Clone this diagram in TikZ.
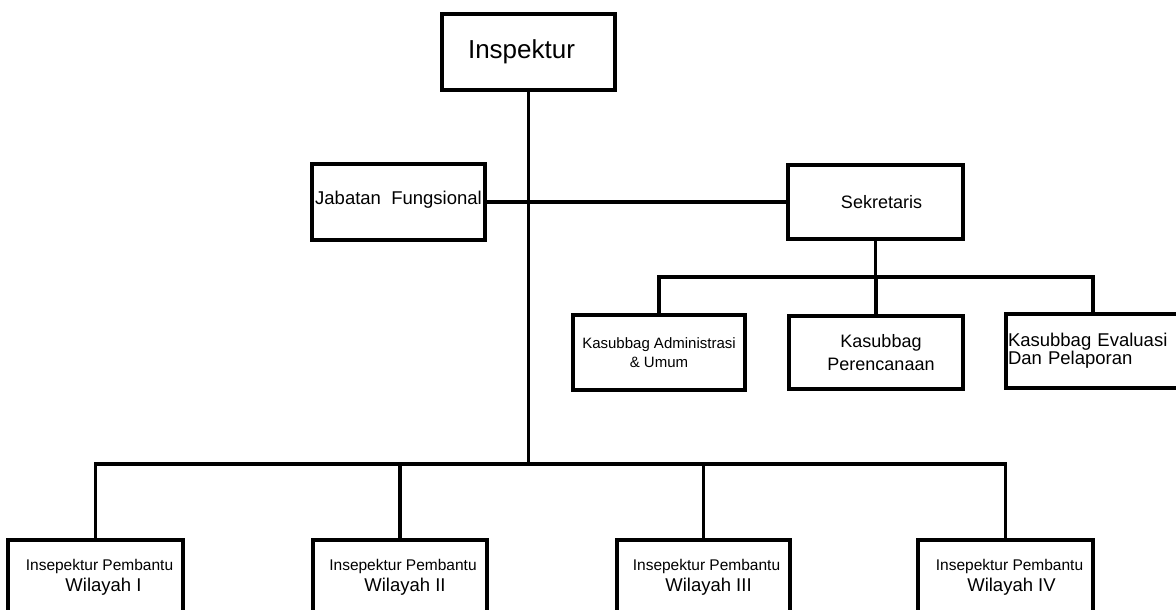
\documentclass[tikz,border=0pt]{standalone}
\usepackage{fontspec}
\setmainfont{Liberation Sans}
\begin{document}
\begin{tikzpicture}[x=1pt,y=-1pt,line width=3.5pt,
  box/.style={draw, line width=3.5pt, inner sep=0pt, align=center, fill=white},
  conn/.style={line width=3.5pt},
  wil/.style={box, minimum height=74, font=\fontsize{15.5}{21}\selectfont}]
\path[use as bounding box] (0,0) rectangle (1176,610);
\clip (0,0) rectangle (1176,610);
% nodes
\node[box, minimum width=173, minimum height=76, font=\fontsize{26}{30}\selectfont] (insp) at (528.5,52) {\hspace*{-14pt}Inspektur};
\node[box, minimum width=173, minimum height=76, font=\fontsize{18.5}{22}\selectfont] (jab) at (398.5,202) {\raisebox{8pt}{Jabatan\ \ Fungsional}};
\node[box, minimum width=175, minimum height=74, font=\fontsize{18}{22}\selectfont] (sek) at (875.5,202) {\hspace*{12pt}Sekretaris};
\node[box, minimum width=172, minimum height=75, font=\fontsize{15}{19}\selectfont] (adm) at (659,352.5) {Kasubbag Administrasi\\\& Umum};
\node[box, minimum width=174, minimum height=73, font=\fontsize{18}{22.5}\selectfont] (per) at (876,352.5) {\hspace*{10pt}Kasubbag\\\hspace*{10pt}Perencanaan};
\node[box, minimum width=174, minimum height=74, text width=170, align=left, font=\fontsize{18.5}{17}\selectfont] (eva) at (1093,351) {Kasubbag Evaluasi\\Dan Pelaporan};
\node[wil, minimum width=175] (w1) at (95.5,577) {\hspace*{8pt}Insepektur Pembantu\\\hspace*{16pt}{\fontsize{18.5}{21}\selectfont Wilayah I}};
\node[wil, minimum width=174] (w2) at (400,577) {\hspace*{6pt}Insepektur Pembantu\\\hspace*{10pt}{\fontsize{18.5}{21}\selectfont Wilayah II}};
\node[wil, minimum width=173] (w3) at (703.5,577) {\hspace*{6pt}Insepektur Pembantu\\\hspace*{10pt}{\fontsize{18.5}{21}\selectfont Wilayah III}};
\node[wil, minimum width=175] (w4) at (1005.5,577) {\hspace*{8pt}Insepektur Pembantu\\\hspace*{12pt}{\fontsize{18.5}{21}\selectfont Wilayah IV}};
% bus coordinates
\coordinate (bus) at (530,464);
\coordinate (bus2) at (876,277);
% connectors
\draw[conn] (insp.south) -- (insp.south |- bus);
\draw[conn] (jab.east) -- (sek.west);
\draw[conn] (sek.south) -- (sek.south |- bus2);
\draw[conn] (adm.north) |- (eva.north |- bus2) -- (eva.north);
\draw[conn] (per.north) -- (per.north |- bus2);
\draw[conn] (w1.north) |- (w4.north |- bus) -- (w4.north);
\draw[conn] (w2.north) -- (w2.north |- bus);
\draw[conn] (w3.north) -- (w3.north |- bus);
\end{tikzpicture}
\end{document}
